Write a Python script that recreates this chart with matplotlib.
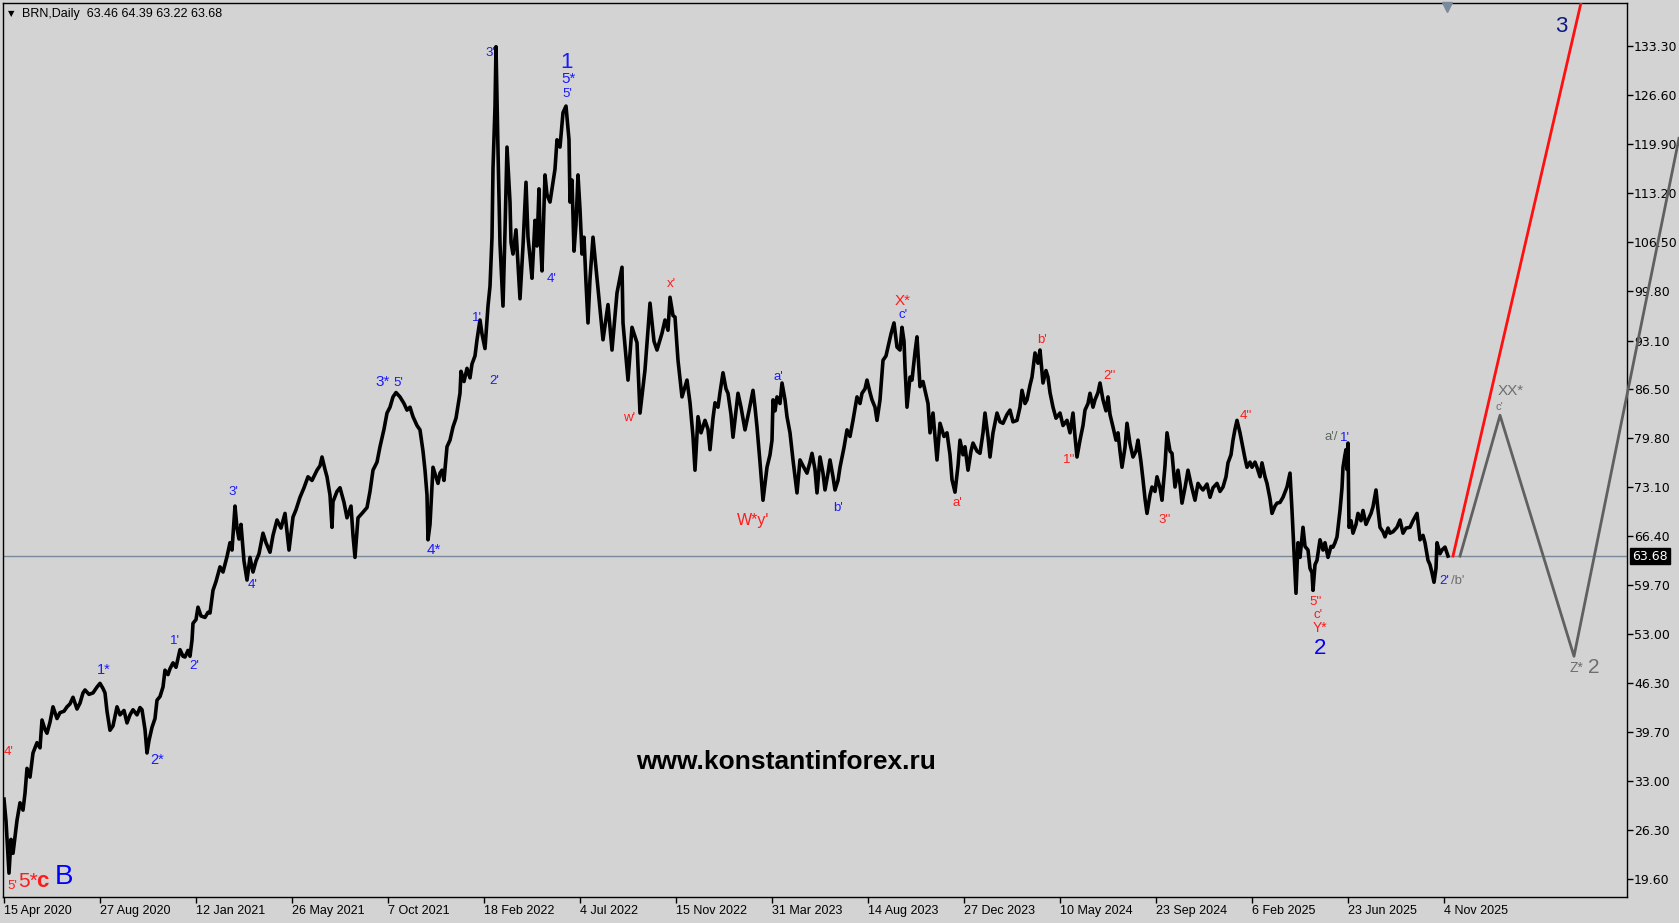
import numpy as np
import matplotlib.pyplot as plt

plt.rcParams['font.family'] = ['Liberation Sans', 'DejaVu Sans']

# bar number on the chart (1 bar = 1 trading day) and price
bars = [4, 6, 9, 11, 13, 17, 20, 23, 25, 27, 30, 33, 37, 40, 42, 45, 47, 50, 53, 57,
        60, 64, 67, 70, 73, 77, 80, 83, 85, 89, 93, 97, 100, 103, 105, 107, 110, 113, 117, 120,
        124, 127, 130, 133, 137, 140, 142, 145, 147, 149, 152, 155, 157, 160, 163, 165, 168, 170, 173, 176,
        180, 183, 185, 188, 190, 192, 193, 196, 198, 201, 205, 208, 210, 213, 216, 220, 223, 227, 230, 232,
        235, 237, 239, 241, 244, 247, 250, 253, 256, 259, 263, 266, 270, 273, 277, 281, 285, 287, 289, 293,
        296, 300, 304, 308, 312, 317, 320, 322, 325, 327, 330, 332, 333, 337, 340, 344, 347, 351, 353, 355,
        358, 362, 367, 370, 373, 377, 380, 384, 387, 390, 393, 396, 400, 404, 407, 410, 413, 417, 420, 423,
        425, 427, 428, 430, 433, 436, 438, 440, 442, 444, 447, 450, 453, 456, 460, 461, 464, 467, 470, 472,
        475, 477, 480, 482, 485, 488, 490, 492, 493, 495, 496, 497, 498, 500, 503, 505, 507, 510, 511, 513,
        516, 518, 520, 523, 526, 528, 530, 532, 535, 537, 539, 540, 542, 545, 547, 550, 553, 555, 557, 560,
        563, 566, 569, 570, 572, 574, 576, 578, 580, 582, 584, 586, 588, 590, 593, 603, 608, 612, 617, 622,
        623, 628, 632, 637, 640, 645, 650, 654, 657, 662, 665, 668, 670, 673, 675, 678, 682, 687, 690, 693,
        695, 698, 701, 705, 708, 710, 713, 715, 718, 720, 723, 726, 728, 731, 733, 736, 738, 741, 745, 749,
        753, 755, 757, 760, 763, 765, 767, 770, 772, 773, 775, 777, 780, 782, 785, 787, 790, 793, 795, 797,
        800, 803, 807, 810, 812, 815, 817, 820, 823, 825, 828, 830, 833, 835, 838, 840, 844, 847, 850, 853,
        857, 860, 862, 865, 867, 870, 872, 875, 877, 880, 883, 886, 888, 891, 894, 897, 900, 902, 904, 905,
        907, 910, 912, 915, 917, 920, 923, 925, 928, 930, 933, 935, 937, 940, 944, 947, 950, 952, 955, 958,
        960, 963, 965, 968, 971, 973, 977, 980, 983, 985, 988, 990, 993, 997, 1000, 1003, 1007, 1010, 1013, 1017,
        1020, 1022, 1025, 1027, 1030, 1032, 1035, 1038, 1040, 1043, 1046, 1048, 1050, 1053, 1056, 1060, 1063, 1067, 1070, 1073,
        1075, 1077, 1080, 1083, 1085, 1088, 1090, 1093, 1095, 1098, 1100, 1103, 1106, 1108, 1110, 1113, 1116, 1118, 1120, 1122,
        1125, 1127, 1130, 1133, 1136, 1138, 1141, 1143, 1145, 1147, 1150, 1152, 1155, 1157, 1160, 1162, 1165, 1167, 1170, 1172,
        1175, 1178, 1180, 1182, 1185, 1188, 1191, 1195, 1198, 1201, 1203, 1207, 1210, 1213, 1217, 1220, 1223, 1226, 1228, 1231,
        1233, 1235, 1237, 1240, 1242, 1245, 1247, 1250, 1252, 1255, 1257, 1260, 1262, 1265, 1267, 1270, 1272, 1275, 1277, 1280,
        1283, 1287, 1290, 1292, 1294, 1296, 1298, 1300, 1303, 1305, 1308, 1310, 1312, 1313, 1315, 1317, 1320, 1323, 1325, 1328,
        1331, 1333, 1335, 1337, 1340, 1342, 1343, 1345, 1346, 1347, 1348, 1349, 1351, 1353, 1356, 1358, 1361, 1363, 1366, 1368,
        1371, 1373, 1376, 1378, 1380, 1383, 1385, 1388, 1390, 1393, 1397, 1400, 1403, 1406, 1410, 1413, 1417, 1420, 1423, 1425,
        1428, 1430, 1432, 1434, 1436, 1437, 1440, 1442, 1445, 1448]

price = [30.5, 27.5, 20.4, 25.0, 23.1, 27.6, 30.0, 29.0, 31.3, 34.7, 33.5, 36.8, 38.2, 37.5, 41.3, 40.0, 39.5, 41.0, 43.1, 41.5,
         42.3, 42.5, 43.1, 43.5, 44.4, 42.8, 43.6, 45.0, 45.4, 44.8, 45.0, 45.8, 46.3, 45.6, 45.0, 42.5, 39.9, 40.5, 43.1, 42.0,
         42.6, 40.9, 42.0, 42.7, 42.0, 43.0, 42.7, 40.0, 36.8, 38.5, 40.3, 41.5, 44.0, 44.5, 45.8, 48.1, 47.5, 48.3, 49.1, 48.5,
         50.9, 50.0, 49.9, 50.8, 50.0, 52.2, 54.5, 55.0, 56.7, 55.5, 55.3, 56.0, 55.9, 59.0, 60.2, 62.2, 61.5, 63.6, 65.5, 64.5,
         70.5, 67.5, 66.0, 68.0, 63.0, 60.4, 63.5, 61.5, 63.0, 64.0, 66.8, 65.5, 64.2, 66.5, 68.6, 67.5, 69.5, 67.0, 64.5, 69.0,
         70.0, 71.7, 73.0, 74.5, 74.0, 75.4, 76.0, 77.2, 75.5, 74.5, 72.0, 67.6, 71.1, 72.5, 73.0, 71.0, 68.9, 70.5, 66.5, 63.5,
         68.9, 69.5, 70.3, 72.5, 75.4, 76.5, 78.6, 81.0, 83.2, 84.0, 85.4, 86.0, 85.4, 84.5, 83.6, 84.0, 82.7, 81.5, 80.9, 78.0,
         75.4, 72.0, 65.9, 68.0, 75.8, 74.5, 73.6, 75.0, 75.4, 74.0, 78.6, 79.5, 81.3, 82.5, 85.9, 88.9, 87.5, 89.3, 88.0, 89.9,
         91.0, 93.2, 95.9, 94.0, 92.0, 97.8, 100.5, 107.2, 116.6, 125.0, 133.2, 126.0, 119.0, 106.3, 97.8, 108.0, 119.5, 112.0, 106.5, 104.9,
         108.2, 103.5, 98.8, 106.0, 114.7, 107.2, 104.5, 101.6, 109.5, 106.0, 113.8, 108.0, 102.6, 115.7, 113.0, 112.0, 114.7, 116.5, 120.5, 119.5,
         124.2, 125.1, 120.5, 112.0, 115.0, 105.3, 109.0, 115.7, 111.0, 104.9, 107.2, 101.0, 95.5, 101.5, 107.2, 93.2, 98.0, 91.8, 99.6, 103.1,
         95.5, 87.7, 94.9, 92.8, 83.2, 89.1, 98.2, 93.0, 91.8, 94.1, 95.9, 94.5, 99.0, 96.5, 96.3, 90.4, 85.4, 87.7, 84.6, 80.0,
         75.4, 82.7, 80.5, 82.2, 81.0, 78.2, 82.5, 84.6, 84.0, 86.0, 88.7, 86.5, 85.9, 83.0, 79.9, 83.5, 85.9, 84.0, 80.9, 83.5,
         86.3, 84.0, 81.3, 76.5, 71.3, 73.5, 75.8, 77.5, 79.5, 85.0, 83.5, 85.4, 84.5, 87.3, 85.0, 82.7, 80.5, 76.8, 74.5, 72.3,
         76.8, 76.0, 75.0, 76.5, 77.7, 75.5, 72.3, 77.2, 75.0, 72.7, 75.0, 76.8, 74.5, 72.7, 74.0, 75.8, 78.5, 80.9, 80.0, 82.2,
         85.4, 84.5, 85.9, 86.5, 87.7, 86.0, 85.0, 84.0, 82.2, 85.0, 90.4, 91.0, 92.2, 94.0, 95.5, 92.2, 91.8, 94.9, 93.0, 89.5,
         84.0, 88.1, 87.7, 91.5, 93.6, 86.8, 87.5, 86.3, 84.5, 80.5, 83.2, 80.0, 76.8, 81.8, 80.0, 80.5, 77.5, 74.1, 72.4, 76.0,
         79.5, 77.5, 78.6, 75.4, 78.0, 79.1, 78.0, 77.7, 80.5, 83.2, 80.0, 77.2, 80.5, 83.2, 82.0, 81.8, 83.0, 83.6, 82.0, 82.2,
         84.0, 86.3, 84.5, 85.0, 87.0, 88.1, 91.4, 90.0, 91.8, 87.3, 89.0, 88.1, 86.0, 84.0, 82.5, 83.2, 81.5, 82.2, 80.5, 83.2,
         80.0, 77.2, 79.5, 81.5, 83.6, 84.5, 85.9, 84.0, 85.0, 86.0, 87.3, 85.0, 83.5, 85.4, 83.0, 81.3, 79.5, 80.5, 78.0, 75.8,
         78.5, 81.8, 79.0, 77.2, 78.0, 79.5, 76.5, 74.1, 71.5, 69.5, 72.0, 73.1, 72.5, 74.5, 73.0, 71.3, 76.0, 80.5, 78.0, 77.7,
         73.1, 75.4, 73.5, 70.9, 73.0, 75.4, 73.5, 71.3, 73.6, 73.0, 72.7, 73.5, 71.7, 73.0, 73.6, 72.5, 73.1, 74.5, 76.4, 77.5,
         79.5, 81.0, 82.2, 80.5, 79.1, 77.0, 75.8, 76.5, 75.8, 76.5, 75.8, 74.5, 76.4, 74.5, 73.6, 71.5, 69.5, 70.5, 70.9, 71.0,
         71.7, 73.1, 75.0, 69.9, 64.1, 58.6, 65.5, 63.5, 67.6, 65.0, 64.5, 62.0, 61.4, 59.0, 62.5, 63.1, 65.9, 64.5, 65.5, 63.5,
         65.0, 64.9, 65.5, 66.3, 69.9, 73.0, 75.8, 77.5, 78.2, 75.5, 79.1, 67.6, 68.5, 66.8, 68.0, 69.5, 68.5, 69.9, 68.0, 68.6,
         69.5, 70.4, 72.7, 70.0, 67.6, 67.0, 66.3, 67.5, 66.8, 67.0, 67.6, 68.6, 66.8, 67.5, 67.6, 68.5, 69.5, 65.9, 66.5, 65.5,
         63.1, 62.5, 61.4, 60.1, 62.0, 65.5, 64.0, 64.5, 64.9, 63.68]

last_price = 63.68
tick_bars = [4, 100, 196, 292, 388, 484, 580, 676, 772, 868, 964, 1060, 1156, 1252, 1348, 1444]
tick_dates = ['15 Apr 2020', '27 Aug 2020', '12 Jan 2021', '26 May 2021', '7 Oct 2021', '18 Feb 2022',
              '4 Jul 2022', '15 Nov 2022', '31 Mar 2023', '14 Aug 2023', '27 Dec 2023', '10 May 2024',
              '23 Sep 2024', '6 Feb 2025', '23 Jun 2025', '4 Nov 2025']
price_ticks = [133.30, 126.60, 119.90, 113.20, 106.50, 99.80, 93.10, 86.50, 79.80,
               73.10, 66.40, 59.70, 53.00, 46.30, 39.70, 33.00, 26.30, 19.60]

# forecast paths drawn on the chart
red_bars = [1453, 1581]
red_prices = [63.68, 139.2]
gray_bars = [1460, 1500, 1574, 1679]
gray_prices = [63.68, 82.9, 50.0, 120.7]

RED = '#ff1a1a'
BLUE = '#1a1aff'
GRAY = '#6e6e6e'

# wave labels: text, bar, price, colour, size, weight, horizontal alignment
wave_labels = [
    ("5'", 7, 18.6, RED, 9.5, 'normal', 'left'),
    ("5*", 18, 19.2, RED, 15, 'normal', 'left'),
    ("c", 36, 19.3, RED, 16, 'bold', 'left'),
    ("B", 55, 19.9, '#0000ff', 20, 'normal', 'left'),
    ("4'", 4, 36.9, RED, 9.5, 'normal', 'left'),
    ("1*", 97, 48.1, BLUE, 10.5, 'normal', 'left'),
    ("2*", 150, 35.8, BLUE, 10.5, 'normal', 'left'),
    ("1'", 170, 52.1, BLUE, 9.5, 'normal', 'left'),
    ("2'", 189, 48.7, BLUE, 9.5, 'normal', 'left'),
    ("3'", 228, 72.4, BLUE, 9.5, 'normal', 'left'),
    ("4'", 248, 59.7, BLUE, 9.5, 'normal', 'left'),
    ("3*", 375, 87.4, BLUE, 11, 'normal', 'left'),
    ("5'", 393, 87.3, BLUE, 9.5, 'normal', 'left'),
    ("4*", 427, 64.5, BLUE, 11, 'normal', 'left'),
    ("1'", 472, 96.2, BLUE, 9.5, 'normal', 'left'),
    ("2'", 489, 87.6, BLUE, 9.5, 'normal', 'left'),
    ("3'", 485, 132.3, BLUE, 9.5, 'normal', 'left'),
    ("4'", 547, 101.5, BLUE, 9.5, 'normal', 'left'),
    ("1", 566, 131.1, BLUE, 16, 'normal', 'center'),
    ("5*", 569, 128.8, BLUE, 11, 'normal', 'center'),
    ("5'", 567, 126.7, BLUE, 9.5, 'normal', 'center'),
    ("w'", 623, 82.5, RED, 9.5, 'normal', 'left'),
    ("x'", 667, 100.8, RED, 9.5, 'normal', 'left'),
    ("W*y'", 737, 68.6, RED, 11.5, 'normal', 'left'),
    ("a'", 773, 88.1, BLUE, 9.5, 'normal', 'left'),
    ("b'", 833, 70.2, BLUE, 9.5, 'normal', 'left'),
    ("X*", 895, 98.5, RED, 11, 'normal', 'left'),
    ("c'", 898, 96.6, BLUE, 9.5, 'normal', 'left'),
    ("a'", 952, 70.9, RED, 9.5, 'normal', 'left'),
    ("b'", 1037, 93.2, RED, 9.5, 'normal', 'left'),
    ("1''", 1063, 76.8, RED, 9.5, 'normal', 'left'),
    ("2''", 1103, 88.3, RED, 9.5, 'normal', 'left'),
    ("3''", 1158, 68.6, RED, 9.5, 'normal', 'left'),
    ("4''", 1240, 82.8, RED, 9.5, 'normal', 'left'),
    ("a'/", 1324, 79.9, '#5a6a5a', 9.5, 'normal', 'left'),
    ("1'", 1340, 79.8, BLUE, 9.5, 'normal', 'left'),
    ("5''", 1309, 57.4, RED, 9.5, 'normal', 'left'),
    ("c'", 1313, 55.6, RED, 9.5, 'normal', 'left'),
    ("Y*", 1313, 53.9, RED, 10, 'normal', 'left'),
    ("2", 1314, 51.1, '#0000ff', 16, 'normal', 'left'),
    ("2'", 1439, 60.3, BLUE, 9.5, 'normal', 'left'),
    ("/b'", 1451, 60.3, GRAY, 9.5, 'normal', 'left'),
    ("3", 1555, 135.9, '#0d1a80', 16, 'normal', 'left'),
    ("XX*", 1498, 86.2, GRAY, 11, 'normal', 'left'),
    ("c'", 1495, 84.0, GRAY, 8, 'normal', 'left'),
    ("Z*", 1569, 48.4, GRAY, 10, 'normal', 'left'),
    ("2", 1588, 48.5, GRAY, 15, 'normal', 'left'),
]

W, H = 1679, 923
fig = plt.figure(figsize=(W / 100, H / 100), dpi=100, facecolor='#d3d3d3')
ax = fig.add_axes([3 / W, 26 / H, 1624 / W, 894 / H])
ax.set_facecolor('#d3d3d3')
ax.set_xlim(3, 1627)
ax.set_ylim(17.14, 139.17)

ax.axhline(last_price, color='#7a8a9a', lw=1, zorder=1)
ax.plot(bars, price, color='black', lw=2.6, zorder=3)

ax.plot(red_bars, red_prices, color='#ff1010', lw=2, zorder=4)
ax.plot(gray_bars, gray_prices, color='#606060', lw=2, zorder=6, clip_on=False)

for txt, b, p, col, fs, fw, ha in wave_labels:
    ax.text(b, p, txt, color=col, fontsize=fs, fontweight=fw, ha=ha, va='center', zorder=5)

ax.text(786, 35.6, 'www.konstantinforex.ru', fontsize=19, fontweight='bold',
        color='black', ha='center', va='center', zorder=5)

# chart shift marker
ax.plot([1447], [138.6], marker='v', ms=7, color='#7a8a9a', clip_on=False, zorder=5)

# axes styling
for s in ax.spines.values():
    s.set_color('black')
    s.set_linewidth(1)
ax.yaxis.tick_right()
ax.set_yticks(price_ticks)
ax.set_yticklabels([f'{v:.2f}' for v in price_ticks], family='DejaVu Sans')
ax.tick_params(axis='y', direction='out', length=4, width=1, pad=1, labelsize=9, colors='black')
ax.set_xticks(tick_bars)
ax.set_xticklabels(tick_dates, ha='left')
ax.tick_params(axis='x', direction='out', length=4, width=1, pad=2, labelsize=9, colors='black')

# last price box on the price scale
fig.text(1632 / W, 1 - 556 / H, f'{last_price:.2f}', color='white', fontsize=9, family='DejaVu Sans',
         ha='left', va='center', bbox=dict(boxstyle='square,pad=0.15', fc='black', ec='black'))

# header
fig.text(8 / W, 1 - 14 / H, '\u25bc', fontsize=6, family='DejaVu Sans', ha='left', va='center')
fig.text(22 / W, 1 - 14 / H, 'BRN,Daily  63.46 64.39 63.22 63.68', fontsize=9,
         ha='left', va='center')

fig.savefig('out.png', dpi=100, facecolor=fig.get_facecolor())
